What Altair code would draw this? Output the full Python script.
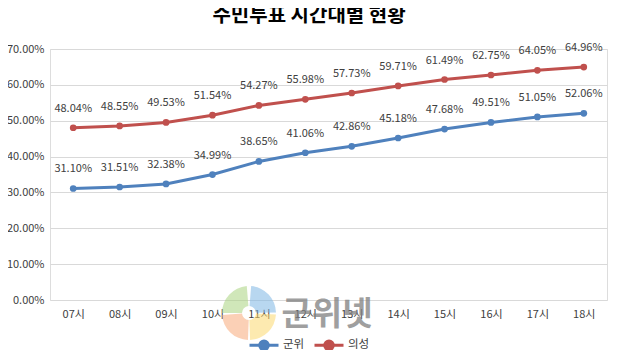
import altair as alt
import pandas as pd

hours = ["07시", "08시", "09시", "10시", "11시", "12시", "13시", "14시", "15시", "16시", "17시", "18시"]
gunwi = [31.10, 31.51, 32.38, 34.99, 38.65, 41.06, 42.86, 45.18, 47.68, 49.51, 51.05, 52.06]
uiseong = [48.04, 48.55, 49.53, 51.54, 54.27, 55.98, 57.73, 59.71, 61.49, 62.75, 64.05, 64.96]
series = ["군위", "의성"]
colors = ["#4F81BD", "#C0504D"]
y_ticks = [0, 10, 20, 30, 40, 50, 60, 70]
title_text = "주민투표 시간대별 현황"
watermark_text = "군위넷"

rows = []
for h, a, b in zip(hours, gunwi, uiseong):
    rows.append({"hour": h, "series": series[0], "value": a / 100})
    rows.append({"hour": h, "series": series[1], "value": b / 100})
df = pd.DataFrame(rows)

FONT = "Noto Sans CJK KR"
LFS = 11
W, H = 557, 251

x = alt.X("hour:N", sort=hours, title=None,
          scale=alt.Scale(paddingOuter=0.5, paddingInner=0),
          axis=alt.Axis(labelAngle=0, ticks=False, domain=False, grid=False,
                        labelPadding=8, labelFontSize=LFS, labelColor="#404040", labelFont=FONT))
y = alt.Y("value:Q", title=None,
          scale=alt.Scale(domain=[0, 0.7]),
          axis=alt.Axis(values=[t / 100 for t in y_ticks], format=".2%", ticks=False, domain=False,
                        gridColor="#D9D9D9", gridWidth=1, labelPadding=6,
                        labelFontSize=LFS, labelColor="#404040", labelFont=FONT))
color = alt.Color("series:N", sort=series,
                  scale=alt.Scale(domain=series, range=colors),
                  legend=alt.Legend(title=None, orient="none", direction="horizontal",
                                    legendX=198, legendY=280, padding=0,
                                    symbolType="M-1,0H1M0.3,0A0.3,0.3 0 1,1 -0.3,0A0.3,0.3 0 1,1 0.3,0Z",
                                    symbolSize=841, symbolStrokeWidth=3,
                                    labelFontSize=11.5, labelColor="#404040", labelFont=FONT,
                                    columnPadding=3, labelOffset=3))

base = alt.Chart(df)
lines = base.mark_line(strokeWidth=3).encode(x=x, y=y, color=color)
points = base.mark_point(filled=True, size=45, opacity=1).encode(
    x=x, y=y,
    color=alt.Color("series:N", sort=series, scale=alt.Scale(domain=series, range=colors), legend=None))
labels = base.mark_text(dy=-19, baseline="middle", fontSize=LFS, color="#404040", font=FONT).encode(
    x=x, y=y, text=alt.Text("value:Q", format=".2%"))

one = pd.DataFrame({"t": [title_text]})
title = alt.Chart(one).mark_text(
    fontSize=20, fontWeight="bold", color="#000000", font=FONT, baseline="middle", align="center"
).encode(x=alt.value(259), y=alt.value(-33), text="t:N")

# faint logo watermark
petals = [("#A9D47F", 4.71, 6.2), ("#7DB6E3", 0.08, 1.55), ("#FBD870", 1.63, 3.1), ("#F8A97A", 3.18, 4.64)]
logo = [
    alt.Chart(one).mark_arc(color=c, theta=t1, theta2=t2, radius=27, radius2=7, opacity=0.55)
    .encode(x=alt.value(199), y=alt.value(264))
    for c, t1, t2 in petals
]
wm = alt.Chart(pd.DataFrame({"t": [watermark_text]})).mark_text(
    fontSize=33, fontWeight="bold", color="#808080", opacity=0.75, font=FONT, baseline="middle"
).encode(x=alt.value(277), y=alt.value(266), text="t:N")

chart = alt.layer(lines, points, labels, title, *logo, wm).properties(
    width=W, height=H,
    padding={"left": 42, "top": 41, "right": 2, "bottom": 50},
    autosize=alt.AutoSizeParams(type="none"),
).configure_view(stroke=None).configure(background="white")

chart.save("out.html", embed_options={"renderer": "svg", "actions": False})
